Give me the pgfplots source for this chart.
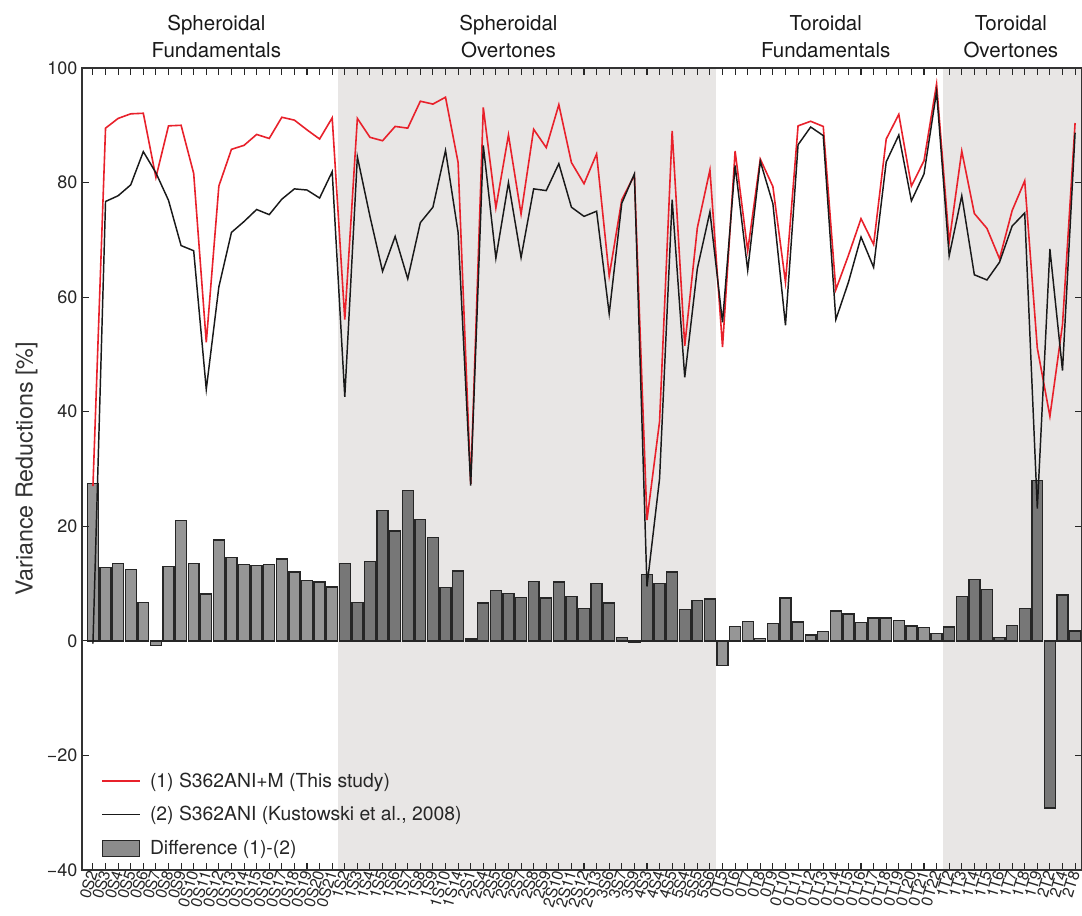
\documentclass[border=0pt]{standalone}
\usepackage{fontspec}
\setmainfont{TeX Gyre Heros}
\usepackage{pgfplots}
\pgfplotsset{compat=1.18}
\usepackage{pgfplotstable}

\definecolor{bandgray}{HTML}{E8E6E5}
\definecolor{vrred}{HTML}{E8212B}
\definecolor{barlight}{HTML}{969696}
\definecolor{bardark}{HTML}{777777}

% Variance reductions of the two models and their difference, per mode
\pgfplotstableread{
i  red   black diff
0  27.0  -0.5  27.5
1  89.5  76.7  12.8
2  91.2  77.7  13.5
3  92.0  79.6  12.4
4  92.1  85.4  6.7
5  80.9  81.7  -0.8
6  89.9  76.9  13.0
7  90.0  69.0  21.0
8  81.6  68.1  13.5
9  52.1  43.9  8.2
10 79.4  61.8  17.6
11 85.8  71.3  14.5
12 86.5  73.2  13.3
13 88.4  75.3  13.1
14 87.7  74.4  13.3
15 91.4  77.1  14.3
16 90.9  78.9  12.0
17 89.2  78.7  10.5
18 87.6  77.3  10.3
19 91.3  81.9  9.4
20 56.1  42.6  13.5
21 91.2  84.5  6.7
22 87.9  74.1  13.8
23 87.3  64.5  22.8
24 89.8  70.6  19.2
25 89.5  63.2  26.3
26 94.2  73.0  21.2
27 93.7  75.7  18.0
28 94.9  85.6  9.3
29 83.5  71.3  12.2
30 27.4  27.1  0.3
31 93.1  86.5  6.6
32 75.6  66.8  8.8
33 88.3  80.0  8.3
34 74.5  66.9  7.6
35 89.3  78.9  10.4
36 86.1  78.6  7.5
37 93.6  83.3  10.3
38 83.5  75.7  7.8
39 79.8  74.1  5.7
40 85.0  75.0  10.0
41 63.7  57.1  6.6
42 77.0  76.4  0.6
43 81.3  81.5  -0.2
44 21.1  9.5   11.6
45 38.3  28.3  10.0
46 89.0  77.0  12.0
47 51.5  46.0  5.5
48 72.1  65.0  7.1
49 82.2  74.9  7.3
50 51.3  55.6  -4.3
51 85.5  83.0  2.5
52 68.1  64.7  3.4
53 84.1  83.7  0.4
54 79.3  76.3  3.0
55 62.6  55.1  7.5
56 89.9  86.6  3.3
57 90.7  89.7  1.0
58 89.8  88.2  1.6
59 61.3  56.1  5.2
60 67.3  62.6  4.7
61 73.7  70.5  3.2
62 69.2  65.2  4.0
63 87.6  83.6  4.0
64 91.9  88.3  3.6
65 79.4  76.8  2.6
66 83.8  81.5  2.3
67 97.2  95.9  1.3
68 69.6  67.2  2.4
69 85.5  77.7  7.8
70 74.6  63.9  10.7
71 72.0  63.0  9.0
72 66.7  66.1  0.6
73 75.1  72.4  2.7
74 80.3  74.7  5.6
75 51.1  23.1  28.0
76 39.2  68.4  -29.2
77 55.2  47.2  8.0
78 90.4  88.7  1.7
}\vrtable

\begin{document}
\begin{tikzpicture}
\useasboundingbox (-61.5pt,-33.75pt) rectangle (750pt,652.5pt);
\begin{axis}[
  at={(0pt,0pt)}, anchor=south west,
  scale only axis, width=750pt, height=601.5pt,
  xmin=-0.87, xmax=78.55, ymin=-40, ymax=100,
  clip mode=individual,
  axis on top,
  axis line style={line width=1.1pt, black!80},
  tick align=inside,
  major tick length=5pt,
  tick style={line width=0.8pt, black!85},
  xtick={0,...,78},
  xticklabels={0S2,0S3,0S4,0S5,0S6,0S7,0S8,0S9,0S10,0S11,0S12,0S13,0S14,0S15,0S16,0S17,0S18,0S19,0S20,0S21,
    1S2,1S3,1S4,1S5,1S6,1S7,1S8,1S9,1S10,1S14,2S1,2S4,2S5,2S6,2S7,2S8,2S9,2S10,2S11,2S12,2S13,
    3S6,3S7,3S9,4S3,4S4,4S5,5S4,5S5,5S6,
    0T5,0T6,0T7,0T8,0T9,0T10,0T11,0T12,0T13,0T14,0T15,0T16,0T17,0T18,0T19,0T20,0T21,0T22,
    1T2,1T3,1T4,1T5,1T6,1T7,1T8,1T9,2T2,2T4,2T8},
  x tick label style={rotate=73, anchor=east, inner sep=0.8pt,
    font=\fontsize{11.8}{11.8}\selectfont, text=black!85},
  ytick={-40,-20,...,100},
  yticklabels={−40,−20,0,20,40,60,80,100},
  y tick label style={font=\fontsize{13.5}{13.5}\selectfont, text=black!85},
  ylabel={Variance Reductions [\%]},
  ylabel style={font=\fontsize{17.5}{17.5}\selectfont, text=black!80},
  legend style={at={(axis cs:0.35,-38.6)}, anchor=south west, draw=none, fill=none,
    font=\fontsize{14.5}{14.5}\selectfont, row sep=9pt,
    nodes={text=black!85},
    /tikz/every odd column/.append style={column sep=5pt}},
  legend cell align=left,
]
% shaded bands for the overtone groups
\fill[bandgray] (axis cs:19.5,-40) rectangle (axis cs:49.5,100);
\fill[bandgray] (axis cs:67.5,-40) rectangle (axis cs:78.55,100);

% difference bars
\pgfplotsset{diffbar/.style={ybar, bar width=0.87, bar shift=0pt, draw=black!85,
  line width=1pt, forget plot}}
\addplot[diffbar, fill=barlight, restrict x to domain=-0.5:19.5] table[x=i,y=diff]{\vrtable};
\addplot[diffbar, fill=bardark, restrict x to domain=19.5:49.5] table[x=i,y=diff]{\vrtable};
\addplot[diffbar, fill=barlight, restrict x to domain=49.5:67.5] table[x=i,y=diff]{\vrtable};
\addplot[diffbar, fill=bardark, restrict x to domain=67.5:78.5] table[x=i,y=diff]{\vrtable};

% variance reduction curves
\addplot[vrred, line width=1.2pt, forget plot] table[x=i,y=red]{\vrtable};
\addplot[black!90, line width=1.1pt, forget plot] table[x=i,y=black]{\vrtable};

% legend
\addlegendimage{legend image code/.code={\draw[vrred, line width=1.3pt] (0pt,0pt) -- (28pt,0pt);}}
\addlegendentry{(1) S362ANI+M (This study)}
\addlegendimage{legend image code/.code={\draw[black!90, line width=1.2pt] (0pt,0pt) -- (28pt,0pt);}}
\addlegendentry{(2) S362ANI (Kustowski et al., 2008)}
\addlegendimage{legend image code/.code={\draw[fill=black!45, draw=black!85, line width=1pt] (0pt,-6pt) rectangle (28pt,6pt);}}
\addlegendentry{Difference (1)-(2)}

% group titles above the frame
\tikzset{grouptitle/.style={anchor=base, font=\fontsize{15.4}{15.4}\selectfont, text=black!90}}
\node[grouptitle] at ([yshift=27.75pt]axis cs:9.8,100) {Spheroidal};
\node[grouptitle] at ([yshift=7.5pt]axis cs:9.8,100) {Fundamentals};
\node[grouptitle] at ([yshift=27.75pt]axis cs:33.0,100) {Spheroidal};
\node[grouptitle] at ([yshift=7.5pt]axis cs:33.0,100) {Overtones};
\node[grouptitle] at ([yshift=27.75pt]axis cs:58.2,100) {Toroidal};
\node[grouptitle] at ([yshift=7.5pt]axis cs:58.2,100) {Fundamentals};
\node[grouptitle] at ([yshift=27.75pt]axis cs:72.9,100) {Toroidal};
\node[grouptitle] at ([yshift=7.5pt]axis cs:72.9,100) {Overtones};
\end{axis}
\end{tikzpicture}
\end{document}
